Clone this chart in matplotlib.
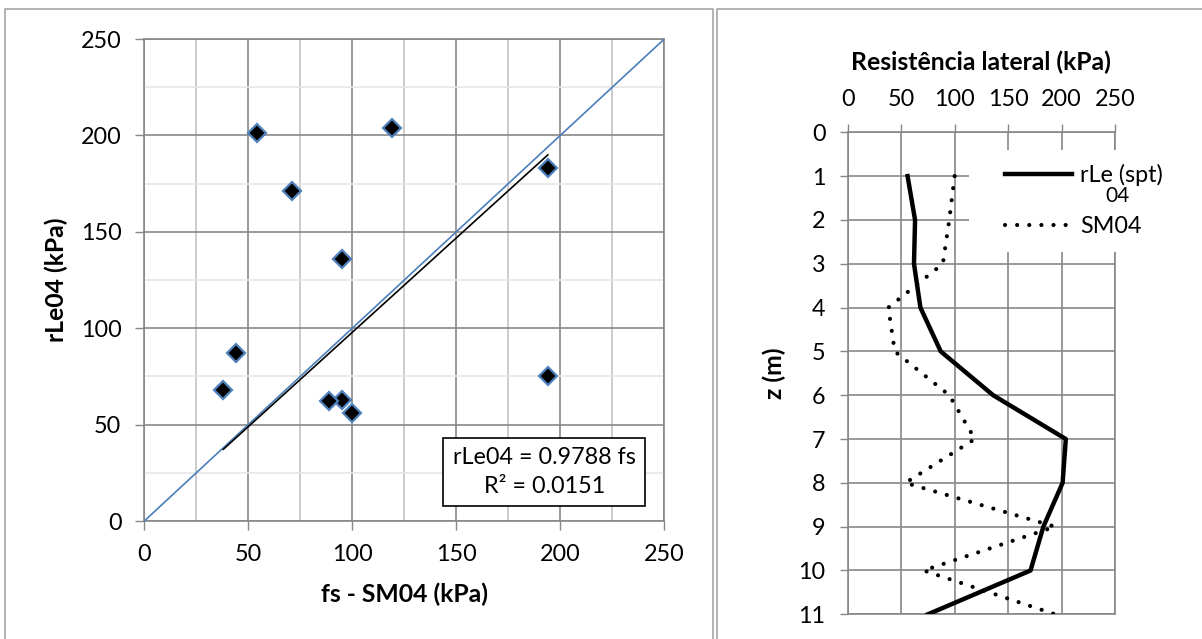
import matplotlib
matplotlib.use("Agg")
import matplotlib.pyplot as plt
import numpy as np
from matplotlib.patches import Rectangle
from matplotlib.lines import Line2D

# dados
z = [1, 2, 3, 4, 5, 6, 7, 8, 9, 10, 11]
rle04 = [56, 63, 62, 68, 87, 136, 204, 201, 183, 171, 75]
sm04 = [100, 95, 89, 38, 44, 95, 119, 54, 194, 71, 194]
slope = 0.9788
r2 = 0.0151
lims = [0, 250]
xticks = [0, 50, 100, 150, 200, 250]

plt.rcParams['font.family'] = ['Lato', 'DejaVu Sans']
fs_tick = 16.8
fs_lab = 17.8
grid_dark = '#878787'
blue = '#4A7EBB'

fig = plt.figure(figsize=(12.02, 6.39), dpi=100)

# molduras dos dois gráficos
frame_col = '#A6A6A6'
fig.add_artist(Line2D([5/1202, 5/1202, 713/1202, 713/1202], [0, 1-9/639, 1-9/639, 0],
                      transform=fig.transFigure, color=frame_col, lw=1.2))
fig.add_artist(Line2D([717/1202, 717/1202, 1.0], [0, 1-9/639, 1-9/639],
                      transform=fig.transFigure, color=frame_col, lw=1.2))

# ---------------- gráfico de dispersão ----------------
ax = fig.add_axes([144.3/1202, 1-521/639, 520/1202, 482/639])
ax.set_xlim(lims)
ax.set_ylim(lims)
ax.set_xticks(xticks)
ax.set_yticks(xticks)
ax.set_xticks(np.arange(25, 250, 50), minor=True)
ax.set_yticks(np.arange(25, 250, 50), minor=True)
ax.xaxis.grid(True, which='major', color=grid_dark, lw=1.2)
ax.yaxis.grid(True, which='major', color=grid_dark, lw=1.2)
ax.xaxis.grid(True, which='minor', color='#C4C4C4', lw=1.2)
ax.yaxis.grid(True, which='minor', color='#E6E6E6', lw=1.2)
ax.tick_params(which='minor', length=0)
ax.tick_params(which='major', direction='out', length=6.5, width=1, color=grid_dark,
               labelsize=fs_tick, pad=10)
for s in ax.spines.values():
    s.set_color(grid_dark)
    s.set_linewidth(1.2)
ax.set_axisbelow(True)

ax.plot(lims, lims, color=blue, lw=1.2, zorder=3)
xfit = np.array([min(sm04), max(sm04)])
ax.plot(xfit, slope * xfit, color='black', lw=1.2, zorder=3)
ax.plot(sm04, rle04, linestyle='none', marker='D', ms=9.5, mfc='black',
        mec='#4F81BD', mew=1.6, zorder=4)

ax.text(0.769, 0.102, 'rLe04 = %.4f fs\nR² = %.4f' % (slope, r2), transform=ax.transAxes,
        ha='center', va='center', fontsize=fs_tick, linespacing=1.45,
        bbox=dict(boxstyle='square,pad=0.4', fc='white', ec='black', lw=1.2), zorder=5)

ax.set_xlabel('fs - SM04 (kPa)', fontsize=fs_lab, fontweight='bold', labelpad=13)
ax.set_ylabel('rLe04 (kPa)', fontsize=fs_lab, fontweight='bold', labelpad=9)

# ---------------- perfil com a profundidade ----------------
ax2 = fig.add_axes([847.7/1202, 1-614.3/639, 267.3/1202, 482/639])
ax2.set_xlim(lims)
ax2.set_ylim(11, 0)
ax2.set_xticks(xticks)
ax2.set_yticks(range(0, 12))
ax2.xaxis.tick_top()
ax2.xaxis.set_label_position('top')
ax2.grid(True, color=grid_dark, lw=1.2)
ax2.tick_params(direction='out', length=6, width=1, color=grid_dark,
                labelsize=fs_tick, pad=10)
for s in ax2.spines.values():
    s.set_color(grid_dark)
    s.set_linewidth(1.2)
ax2.set_axisbelow(True)

# fundo da legenda cobrindo a grade
ax2.add_patch(Rectangle(((969-847.7)/267.3, (614.3-251.7)/482), 1.0, (251.7-150)/482,
                        transform=ax2.transAxes, fc='white', ec='none',
                        clip_on=False, zorder=2.6))

ax2.plot(rle04, z, color='black', lw=3.2, solid_joinstyle='round', zorder=3,
         label='rLe (spt)')
ax2.plot(sm04, z, color='black', lw=3.0, linestyle=(0, (0.01, 2.9)),
         dash_capstyle='round', zorder=3, label='SM04')

leg = ax2.legend(loc='upper left', bbox_to_anchor=((1000-847.7)/267.3, (614.3-159)/482),
                 frameon=False, fontsize=fs_tick, handlelength=2.9, handletextpad=0.35,
                 labelspacing=1.3, borderaxespad=0, borderpad=0.2)
leg.set_zorder(6)
fig.text(1118/1202, 1-195.5/639, '04', ha='center', va='center', fontsize=15)

ax2.set_xlabel('Resistência lateral (kPa)', fontsize=fs_lab, fontweight='bold', labelpad=13.5)
ax2.set_ylabel('z (m)', fontsize=fs_lab, fontweight='bold', labelpad=9)

fig.savefig('out.png', dpi=100)
